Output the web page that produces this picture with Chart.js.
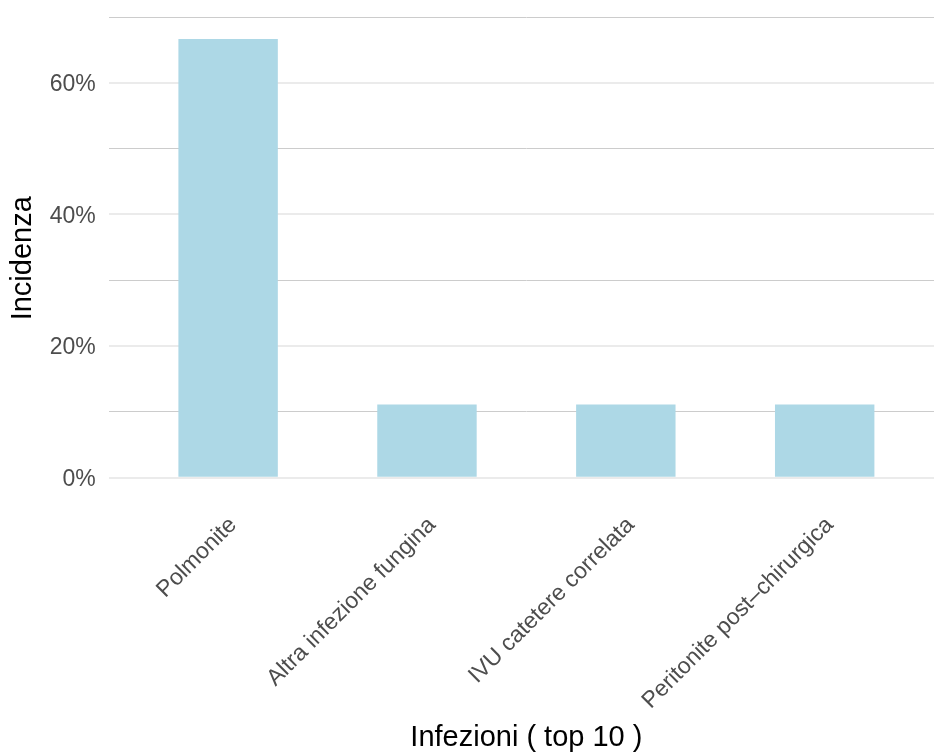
<!DOCTYPE html>
<html>
<head>
<meta charset="utf-8">
<script src="https://cdn.jsdelivr.net/npm/chart.js@4"></script>
<style>
  html, body { margin: 0; padding: 0; background: #fff; overflow: hidden; }
  #wrap { width: 944px; height: 756px; position: relative; }
</style>
</head>
<body>
<div id="wrap"><canvas id="chart"></canvas></div>
<script>
const categories = ['Polmonite', 'Altra infezione fungina', 'IVU catetere correlata', 'Peritonite post\u2013chirurgica'];
const incidence = [66.67, 11.11, 11.11, 11.11];
const yTicks = [0, 10, 20, 30, 40, 50, 60, 70];

const ctx = document.getElementById('chart');

new Chart(ctx, {
  type: 'bar',
  data: {
    datasets: [
      {
        label: 'Incidenza',
        data: categories.map((c, i) => ({ x: i + 1, y: incidence[i] })),
        backgroundColor: '#ADD8E6',
        borderWidth: 0,
        barPercentage: 0.5,
        categoryPercentage: 1,
      },
    ],
  },
  options: {
    responsive: true,
    maintainAspectRatio: false,
    animation: false,
    layout: { padding: { top: 17, left: 0, right: 0, bottom: 0 } },
    plugins: {
      legend: { display: false },
      tooltip: { enabled: false },
    },
    scales: {
      x: {
        type: 'linear',
        offset: false,
        min: 0.4,
        max: 4.6,
        afterBuildTicks: (scale) => {
          scale.ticks = categories.map((c, i) => ({ value: i + 1 }));
        },
        afterFit: (scale) => {
          scale.height = 256.4;
          scale.paddingLeft = 0;
          scale.paddingRight = 0;
        },
        grid: { display: false, drawTicks: false },
        border: { display: false },
        ticks: {
          autoSkip: false,
          minRotation: 45,
          maxRotation: 45,
          padding: 12,
          labelOffset: 5,
          color: '#4d4d4d',
          font: { family: '"Liberation Sans", Arial, sans-serif', size: 23 },
          callback: (v) => categories[v - 1] || '',
        },
        title: {
          display: true,
          text: 'Infezioni ( top 10 )',
          color: '#000',
          padding: { top: 0, bottom: 1 },
          font: { family: '"Liberation Sans", Arial, sans-serif', size: 29 },
        },
      },
      y: {
        min: -3.333,
        max: 70,
        afterBuildTicks: (scale) => {
          scale.ticks = yTicks.map((v) => ({ value: v }));
        },
        afterFit: (scale) => {
          scale.width = 108.8;
          scale.paddingTop = 0;
          scale.paddingBottom = 0;
        },
        grid: {
          drawTicks: false,
          color: (c) => (c.tick && c.tick.value % 20 === 0 ? '#ebebeb' : '#cccccc'),
          lineWidth: (c) => (c.tick && c.tick.value % 20 === 0 ? 2 : 1),
        },
        border: { display: false },
        ticks: {
          padding: 13,
          labelOffset: 2,
          color: '#4d4d4d',
          font: { family: '"Liberation Sans", Arial, sans-serif', size: 23 },
          callback: (v) => (v % 20 === 0 ? v + '%' : ''),
        },
        title: {
          display: true,
          text: 'Incidenza',
          color: '#000',
          padding: { top: 6, bottom: 0 },
          font: { family: '"Liberation Sans", Arial, sans-serif', size: 29 },
        },
      },
    },
  },
});
</script>
</body>
</html>
